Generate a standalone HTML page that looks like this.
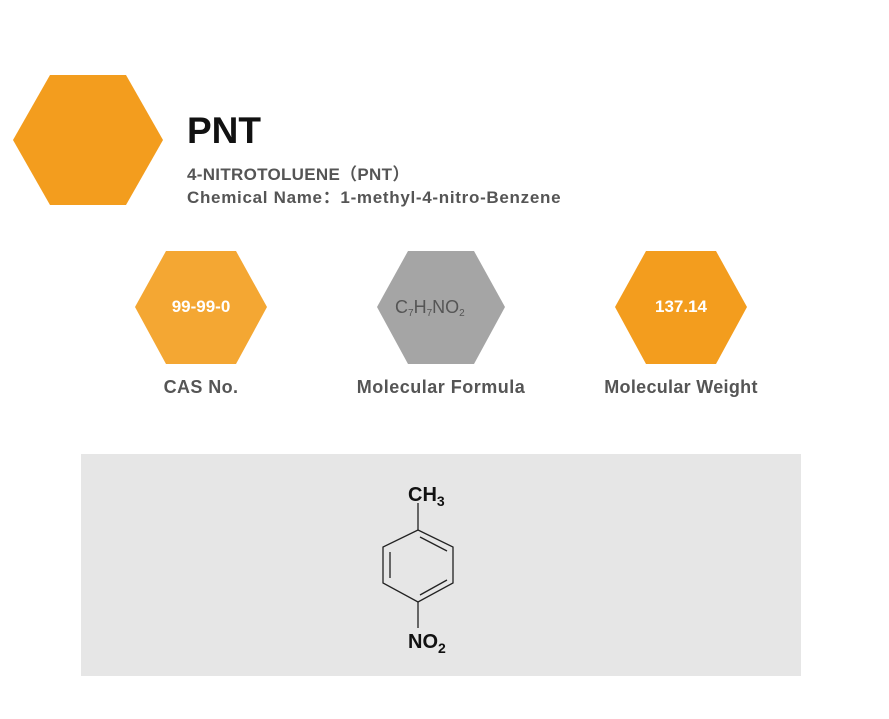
<!DOCTYPE html>
<html><head><style>
body{margin:0;width:889px;height:719px;background:#fff;position:relative;overflow:hidden;font-family:"Liberation Sans","Noto Sans CJK SC",sans-serif}
.t{position:absolute;white-space:nowrap;font-weight:bold}
</style></head><body>
<svg width="889" height="719" style="position:absolute;left:0;top:0">
<polygon points="13,140 50,75 126,75 163,140 126,205 50,205" fill="#F39D1E"/>
<polygon points="135,307 166,251 236,251 267,307 236,364 166,364" fill="#F4A733"/>
<polygon points="377,307 408,251 474,251 505,307 474,364 408,364" fill="#A5A5A5"/>
<polygon points="615,307 646,251 716,251 747,307 716,364 646,364" fill="#F39D1E"/>
<rect x="81" y="454" width="720" height="222" fill="#E6E6E6"/>
<g stroke="#222" stroke-width="1.3" fill="none">
<polygon points="418,530 453,547 453,583 418,602 383,583 383,547"/>
<line x1="418" y1="530" x2="418" y2="503"/>
<line x1="418" y1="602" x2="418" y2="628"/>
<line x1="390" y1="552" x2="390" y2="578"/>
<line x1="420" y1="537" x2="447" y2="551"/>
<line x1="420" y1="595" x2="447" y2="580"/>
</g>
<text x="408" y="501" font-family="Liberation Sans" font-weight="bold" font-size="20" fill="#111">CH<tspan font-size="14" dy="5">3</tspan></text>
<text x="408" y="648" font-family="Liberation Sans" font-weight="bold" font-size="20" fill="#111">NO<tspan font-size="14" dy="5">2</tspan></text>
<text x="395" y="313" font-family="Liberation Sans" font-size="18" fill="#555">C<tspan font-size="10" dy="3">7</tspan><tspan dy="-3">H</tspan><tspan font-size="10" dy="3">7</tspan><tspan dy="-3">NO</tspan><tspan font-size="10" dy="3">2</tspan></text>
</svg>
<div class="t" style="left:187px;top:110px;font-size:37px;color:#111">PNT</div>
<div class="t" style="left:187px;top:160px;font-size:17px;letter-spacing:0.3px;color:#555">4-NITROTOLUENE（PNT）</div>
<div class="t" style="left:187px;top:183px;font-size:17px;letter-spacing:0.7px;color:#555">Chemical Name：1-methyl-4-nitro-Benzene</div>
<div class="t" style="left:135px;width:132px;text-align:center;top:297px;font-size:17px;color:#fff">99-99-0</div>
<div class="t" style="left:615px;width:132px;text-align:center;top:297px;font-size:17px;color:#fff">137.14</div>
<div class="t" style="left:101px;width:200px;text-align:center;top:377px;font-size:18px;letter-spacing:0.4px;color:#555">CAS No.</div>
<div class="t" style="left:341px;width:200px;text-align:center;top:377px;font-size:18px;letter-spacing:0.5px;color:#555">Molecular Formula</div>
<div class="t" style="left:581px;width:200px;text-align:center;top:377px;font-size:18px;letter-spacing:0.3px;color:#555">Molecular Weight</div>
</body></html>
